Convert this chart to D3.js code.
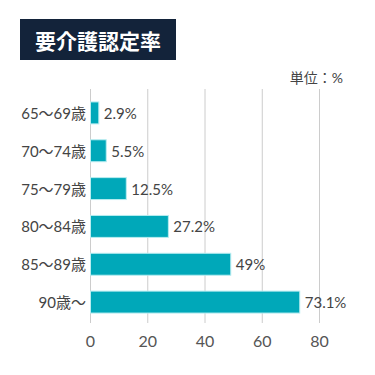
<!DOCTYPE html>
<html>
<head>
<meta charset="utf-8">
<script src="https://cdn.jsdelivr.net/npm/d3@7"></script>
<style>
  body { margin: 0; background: #fff; }
  svg text { font-family: "Lato", "Noto Sans CJK JP", sans-serif; }
</style>
</head>
<body>
<div id="vis"></div>
<script>
// data
var categories = ["65～69歳", "70～74歳", "75～79歳", "80～84歳", "85～89歳", "90歳～"];
var rates = [2.9, 5.5, 12.5, 27.2, 49, 73.1];
var valueLabels = ["2.9%", "5.5%", "12.5%", "27.2%", "49%", "73.1%"];
var xTicks = [0, 20, 40, 60, 80];

var w = 375, h = 375;

var svg = d3.select("#vis").append("svg")
    .attr("width", w)
    .attr("height", h);

// title box
svg.append("rect")
    .attr("x", 20).attr("y", 19)
    .attr("width", 156).attr("height", 41)
    .attr("fill", "#13233a");
svg.append("text")
    .attr("x", 98).attr("y", 40)
    .attr("text-anchor", "middle")
    .attr("dominant-baseline", "central")
    .attr("font-size", "21px")
    .attr("font-weight", "bold")
    .attr("fill", "#fff")
    .style("font-family", "'Noto Sans CJK JP', sans-serif")
    .text("要介護認定率");

// unit
svg.append("text")
    .attr("x", 343).attr("y", 77)
    .attr("text-anchor", "end")
    .attr("dominant-baseline", "central")
    .attr("font-size", "14px")
    .attr("fill", "#444")
    .text("単位：%");

var xScale = d3.scaleLinear()
    .domain([0, 80])
    .range([90.5, 319.5]);

var yScale = d3.scaleBand()
    .domain(categories)
    .range([94, 321])
    .paddingInner(0.42)
    .paddingOuter(0.21);

// gridlines
svg.selectAll("line.grid")
    .data(xTicks)
    .enter()
    .append("line")
    .attr("class", "grid")
    .attr("x1", function(d) { return xScale(d); })
    .attr("x2", function(d) { return xScale(d); })
    .attr("y1", 89)
    .attr("y2", 323)
    .attr("stroke", "#cccccc")
    .attr("stroke-width", 1);

// x tick labels
svg.selectAll("text.xtick")
    .data(xTicks)
    .enter()
    .append("text")
    .attr("class", "xtick")
    .attr("x", function(d) { return xScale(d); })
    .attr("y", 340)
    .attr("text-anchor", "middle")
    .attr("dominant-baseline", "central")
    .attr("font-size", "16px")
    .attr("fill", "#555")
    .text(function(d) { return d; });

// bars
svg.selectAll("rect.bar")
    .data(rates)
    .enter()
    .append("rect")
    .attr("class", "bar")
    .attr("x", xScale(0))
    .attr("y", function(d, i) { return yScale(categories[i]); })
    .attr("width", function(d) { return xScale(d) - xScale(0); })
    .attr("height", yScale.bandwidth())
    .attr("fill", "#00a8b9")
    .attr("stroke", "#b8ecf0")
    .attr("stroke-width", 1);

// category labels
svg.selectAll("text.cat")
    .data(categories)
    .enter()
    .append("text")
    .attr("class", "cat")
    .attr("x", 86)
    .attr("y", function(d) { return yScale(d) + yScale.bandwidth() / 2; })
    .attr("text-anchor", "end")
    .attr("dominant-baseline", "central")
    .attr("font-size", "15px")
    .attr("fill", "#444")
    .text(function(d) { return d; });

// value labels
svg.selectAll("text.val")
    .data(rates)
    .enter()
    .append("text")
    .attr("class", "val")
    .attr("x", function(d) { return xScale(d) + 5; })
    .attr("y", function(d, i) { return yScale(categories[i]) + yScale.bandwidth() / 2; })
    .attr("dominant-baseline", "central")
    .attr("font-size", "15px")
    .attr("fill", "#444")
    .text(function(d, i) { return valueLabels[i]; });
</script>
</body>
</html>
